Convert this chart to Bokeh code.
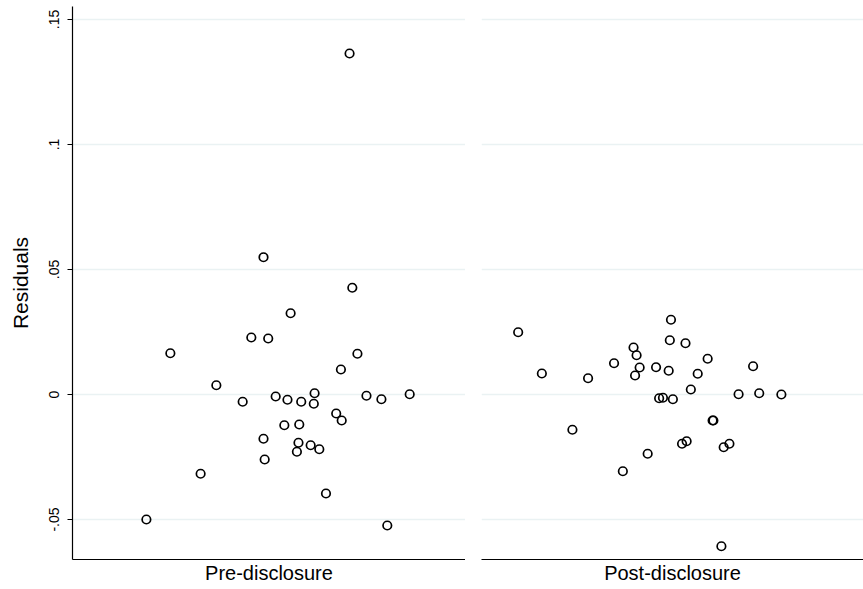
from bokeh.plotting import figure
from bokeh.layouts import row
from bokeh.models import Range1d, FixedTicker
from bokeh.embed import file_html
from bokeh.resources import INLINE

# ---- data (jittered horizontal position 0-100 within each panel, residual) ----
pre_x = [71.2, 55.5, 45.5, 49.8, 24.9, 72.5, 68.3, 36.6, 43.3, 51.7, 54.7,
         58.2, 61.6, 61.4, 74.8, 78.6, 85.8, 67.1, 68.5, 53.9, 57.7, 48.6,
         57.5, 60.6, 62.8, 57.1, 48.9, 32.6, 64.5, 18.8, 80.1, 48.6, 70.5]
pre_y = [0.0427, 0.0325, 0.0228, 0.0224, 0.0165, 0.0163, 0.0100, 0.0037,
         -0.0029, -0.0008, -0.0021, -0.0029, 0.0005, -0.0037, -0.0005,
         -0.0019, 0.0001, -0.0076, -0.0104, -0.0123, -0.0120, -0.0177,
         -0.0193, -0.0203, -0.0219, -0.0229, -0.0260, -0.0317, -0.0396,
         -0.0500, -0.0524, 0.0549, 0.1364]

post_x = [9.6, 49.6, 49.3, 53.4, 39.8, 40.6, 59.2, 34.7, 71.1, 41.4, 45.7,
          49.0, 15.8, 56.6, 40.2, 27.9, 54.8, 67.3, 72.7, 78.5, 46.5, 47.5,
          50.1, 60.5, 60.7, 23.8, 53.7, 52.5, 64.9, 63.4, 43.5, 37.0, 62.8]
post_y = [0.0249, 0.0299, 0.0217, 0.0205, 0.0188, 0.0157, 0.0143, 0.0125,
          0.0113, 0.0108, 0.0109, 0.0095, 0.0084, 0.0083, 0.0076, 0.0065,
          0.0020, 0.0001, 0.0005, 0.0000, -0.0015, -0.0013, -0.0019,
          -0.0104, -0.0104, -0.0141, -0.0187, -0.0197, -0.0197, -0.0211,
          -0.0237, -0.0307, -0.0607]

panel_labels = ["Pre-disclosure", "Post-disclosure"]
y_tick_values = [-0.05, 0.0, 0.05, 0.1, 0.15]
y_tick_labels = ["-.05", "0", ".05", ".1", ".15"]
y_title = "Residuals"

FONT = "Liberation Sans"
GRID = "#eaf2f3"


def make_panel(xs, ys, label, show_y, frame_w, border_left):
    p = figure(output_backend="svg", toolbar_location=None,
               frame_width=frame_w, frame_height=553,
               x_range=Range1d(0, 100), y_range=Range1d(-0.066, 0.1552),
               min_border_left=border_left, min_border_right=0,
               min_border_top=6, min_border_bottom=30)
    p.outline_line_color = None
    p.background_fill_color = "white"
    p.border_fill_color = "white"

    # x axis: single centered label
    xa = p.xaxis[0]
    xa.ticker = FixedTicker(ticks=[50])
    xa.major_label_overrides = {50: label}
    xa.major_tick_line_color = None
    xa.major_tick_out = 0
    xa.major_tick_in = 0
    xa.minor_tick_line_color = None
    xa.minor_tick_out = 0
    xa.major_label_standoff = 2
    xa.major_label_text_font = FONT
    xa.major_label_text_font_size = "20px"
    xa.major_label_text_color = "black"
    xa.axis_line_color = "black"
    xa.axis_line_width = 1.2
    p.xgrid.visible = False

    ya = p.yaxis[0]
    ya.ticker = FixedTicker(ticks=y_tick_values)
    ya.major_label_overrides = {v: s for v, s in zip(y_tick_values, y_tick_labels)}
    p.ygrid.ticker = FixedTicker(ticks=y_tick_values)
    p.ygrid.grid_line_color = GRID
    p.ygrid.grid_line_width = 1.5
    if show_y:
        ya.major_tick_out = 5
        ya.major_tick_in = 0
        ya.minor_tick_line_color = None
        ya.major_tick_line_color = "black"
        ya.axis_line_color = "black"
        ya.axis_line_width = 1.2
        ya.major_label_orientation = "vertical"
        ya.major_label_standoff = 9
        ya.major_label_text_font = FONT
        ya.major_label_text_font_size = "14px"
        ya.major_label_text_color = "black"
        ya.axis_label = y_title
        ya.axis_label_text_font = FONT
        ya.axis_label_text_font_style = "normal"
        ya.axis_label_text_font_size = "21px"
        ya.axis_label_text_color = "black"
        ya.axis_label_standoff = 14
    else:
        ya.visible = False

    p.scatter(xs, ys, marker="circle", size=8.5, fill_color=None,
              line_color="black", line_width=1.7)
    return p


p1 = make_panel(pre_x, pre_y, panel_labels[0], True, 393, 72)
p2 = make_panel(post_x, post_y, panel_labels[1], False, 382, 16)

layout = row(p1, p2, spacing=0)
open("out.html", "w").write(file_html(layout, INLINE))
